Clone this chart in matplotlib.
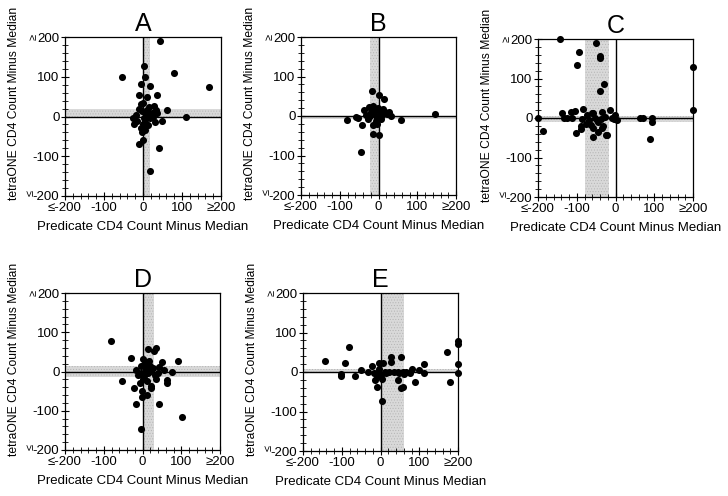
import matplotlib
matplotlib.use("Agg")
import matplotlib.pyplot as plt
from matplotlib.ticker import MultipleLocator

plt.rcParams['font.family'] = ['Liberation Sans', 'DejaVu Sans']
plt.rcParams['hatch.linewidth'] = 0.4

# Panel A
a_x = [43, -53, 79, 168, 2, 4, -6, 17, -11, 36, 11, -1, 61, 109, 49, 40, 18, -9, -1, -26, -23,
       -10, -3, 9, 29, 33, 35, 26, 18, 11, 5, 1, -5, 5, 14, 31, -15, -18, 8, 22, -6, 15, 3, -2]
a_y = [190, 100, 109, 73, 128, 100, 83, 77, 55, 55, 48, 34, 16, 0, -12, -79, -136, -69, -60, -3, -19,
       20, 14, 16, 27, 16, 8, -1, -5, 1, -9, -18, -28, -34, -22, -13, -11, 3, 8, 8, 31, 24, -3, -39]
a_xband = (0, 18)
a_yband = (0, 20)

# Panel B
b_x = [-17, 0, 14, 146, -82, -57, -53, -43, 59, -45, -15, 0, -37, -24, -13, -1, -14, -3,
       -33, -22, -11, -5, 3, 10, 17, 23, 32, 28, 6, -7, -28, -20, 12, 2, -9]
b_y = [63, 52, 43, 6, -9, -2, -6, -24, -9, -91, -46, -49, 15, 22, 25, 20, -22, -20,
       3, -1, 5, -6, 9, 3, 11, 5, -1, 9, -8, -12, -8, 9, 18, -1, 14]
b_xband = (-22, 0)
b_yband = (-7, 0)

# Panel C
c_x = [-144, -50, -93, -100, -41, -41, -29, -41, 200, 200, -200, -187, -139, -132, -126, -111,
       -114, -104, -101, -85, -86, -89, -88, -77, -74, -61, -57, -59, -58, -52, -44, -44, -34,
       -31, -25, -22, -14, -9, -1, 3, -5, 64, 70, 94, 94, 88, -68, -48, -38, -27, -63, -35]
c_y = [200, 190, 166, 134, 157, 152, 87, 69, 129, 19, 0, -34, 13, 1, 1, 1,
       16, 18, -39, 22, -3, -20, -27, -14, 8, 12, 12, -47, -25, 1, -11, -35, 14,
       -19, -42, -43, 20, 1, 8, -5, -3, 0, 0, 1, -9, -52, -5, -5, -3, 3, -18, -26]
c_xband = (-80, -16)
c_yband = (-10, 6)

# Panel D
d_x = [-81, -30, -53, -21, -17, -4, 102, 43, 14, 29, 34, 51, 92, 76, 64, 64, 36, 43, 55, 1,
       17, 21, 21, 12, -1, -1, -7, -11, -17, -3, 6, 10, 15, 23, 27, 32, 3, -5, 7, 19, 40, 2, 12]
d_y = [78, 35, -23, -42, -83, -147, -117, -84, 58, 51, 59, 25, 26, -1, -22, -29, -18, 11, 3, 33,
       26, -37, -42, -59, -49, -66, -29, -10, 3, 14, 15, 5, -5, 1, 9, -10, -12, -5, 22, 14, -5, -20, -25]
d_xband = (0, 29)
d_yband = (-15, 14)

# Panel E
e_x = [-142, -92, -82, -102, -101, -65, -51, -33, -23, -16, -15, -10, -8, -4, 5, 6, 3, 11, 22,
       28, 28, 35, 52, 44, 46, 54, 59, 59, 61, 75, 82, 88, 100, 111, 112, 171, 179, 200, 200,
       200, 200, -3, -8, 1, 14, 65, 48]
e_y = [28, 22, 63, -5, -9, -9, 5, 1, 15, -3, -20, -37, -9, 23, -73, 23, -18, 1, 1,
       26, 37, 1, 39, 1, -20, -41, -37, 1, -5, -3, 8, -26, 6, 19, -3, 50, -26, 78, 71,
       19, -3, 8, -3, -8, -3, 1, -3]
e_xband = (0, 60)
e_yband = (-3, 7)

titles = ["A", "B", "C", "D", "E"]
xs = [a_x, b_x, c_x, d_x, e_x]
ys = [a_y, b_y, c_y, d_y, e_y]
xbands = [a_xband, b_xband, c_xband, d_xband, e_xband]
ybands = [a_yband, b_yband, c_yband, d_yband, e_yband]

# axes boxes in pixels: left, top, right, bottom
boxes = [(65, 37, 221, 196), (301, 37, 456, 195), (538, 39, 693, 197),
         (65, 293, 220, 450), (303, 293, 458, 451)]

W, H = 728, 496
fig = plt.figure(figsize=(W / 100, H / 100), dpi=100)

band_kw = dict(facecolor='#d9d9d9', edgecolor='#b4b4b4', hatch='......', lw=0, zorder=0)

for t, x, y, xb, yb, (l, tp, r, b) in zip(titles, xs, ys, xbands, ybands, boxes):
    ax = fig.add_axes([l / W, (H - b) / H, (r - l) / W, (b - tp) / H])
    ax.axvspan(xb[0], xb[1], **band_kw)
    ax.axhspan(yb[0], yb[1], **band_kw)
    ax.axvline(0, color='k', lw=1, zorder=1)
    ax.axhline(0, color='k', lw=1, zorder=1)
    ax.scatter(x, y, s=26, c='k', lw=0, zorder=3, clip_on=False)

    ax.set_xlim(-200, 200)
    ax.set_ylim(-200, 200)
    ax.set_xticks([-200, -100, 0, 100, 200])
    ax.set_xticklabels(['≤-200', '-100', '0', '100', '≥200'])
    ax.set_yticks([-200, -100, 0, 100, 200])
    ax.set_yticklabels(['-200', '-100', '0', '100', '200'])
    ax.xaxis.set_minor_locator(MultipleLocator(20))
    ax.yaxis.set_minor_locator(MultipleLocator(20))
    ax.tick_params(which='major', direction='inout', length=6, width=0.8, labelsize=9.5, pad=1)
    ax.tick_params(which='minor', direction='inout', length=4, width=0.6)
    for s in ax.spines.values():
        s.set_linewidth(0.9)

    # rotated inequality signs next to the y extremes
    ax.annotate('≥', xy=(0, 200), xycoords=('axes fraction', 'data'), xytext=(-31, 0),
                textcoords='offset pixels', rotation=90, ha='center', va='center', fontsize=8)
    ax.annotate('≤', xy=(0, -200), xycoords=('axes fraction', 'data'), xytext=(-34, 3),
                textcoords='offset pixels', rotation=90, ha='center', va='center', fontsize=8)

    ax.set_title(t, fontsize=18, pad=4)
    ax.set_xlabel('Predicate CD4 Count Minus Median', fontsize=9.5)
    ax.set_ylabel('tetraONE CD4 Count Minus Median', fontsize=8.7)
    ax.xaxis.set_label_coords(0.5, -0.16)
    ax.yaxis.set_label_coords(-0.29, 0.58)

fig.savefig('out.png', dpi=100)
